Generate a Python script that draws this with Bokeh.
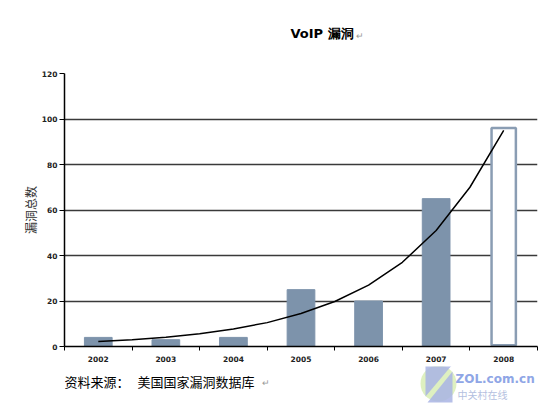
from bokeh.plotting import figure
from bokeh.models import FixedTicker, Label, Range1d, ColumnDataSource
from bokeh.layouts import column
from bokeh.embed import file_html
from bokeh.resources import INLINE

years = [2002, 2003, 2004, 2005, 2006, 2007]
counts = [4, 3, 4, 25, 20, 65]
forecast_year = [2008]
forecast_count = [96]
trend_x = [2002, 2002.5, 2003, 2003.5, 2004, 2004.5, 2005, 2005.5, 2006, 2006.5, 2007, 2007.5, 2008]
trend_y = [2.2, 3.0, 4.1, 5.6, 7.7, 10.5, 14.5, 19.8, 27, 37, 51, 70, 95]
y_ticks = [0, 20, 40, 60, 80, 100, 120]

W = 555
LB, RB = 64, 18          # left / right borders shared by all stacked figures
TOP_H, CHART_H, FOOT_H = 60, 306, 38


def strip(h):
    s = figure(width=W, height=h, output_backend="svg", toolbar_location=None,
               x_range=Range1d(LB, W - RB), y_range=Range1d(h, 0),
               x_axis_type=None, y_axis_type=None,
               min_border_left=LB, min_border_right=RB,
               min_border_top=0, min_border_bottom=0)
    s.outline_line_color = None
    s.grid.visible = False
    s.background_fill_color = "white"
    s.border_fill_color = "white"
    return s


def lab(fig, x, y, text, size, color="black", style="normal", font="Noto Sans CJK SC"):
    fig.add_layout(Label(x=x, y=y, text=text, text_font=font, text_font_size=size,
                         text_color=color, text_font_style=style,
                         text_align="left", text_baseline="middle"))


# ---- title strip
top = strip(TOP_H)
lab(top, 290, 33, "VoIP  漏洞", "13px", "black", "bold", "DejaVu Sans")
lab(top, 355, 35, "↵", "9px", "#999999")

# ---- chart
p = figure(width=W, height=CHART_H, output_backend="svg", toolbar_location=None,
           x_range=Range1d(2001.5, 2008.5), y_range=Range1d(0, 120),
           min_border_left=LB, min_border_right=RB, min_border_top=13, min_border_bottom=20)
p.outline_line_color = None
p.background_fill_color = "white"
p.border_fill_color = "white"

p.xaxis.ticker = FixedTicker(ticks=years + forecast_year,
                             minor_ticks=[y - 0.5 for y in years + forecast_year] + [2008.5])
p.xaxis.major_tick_out = 0
p.xaxis.major_tick_in = 0
p.xaxis.minor_tick_out = 4
p.xaxis.minor_tick_in = 0
p.xaxis.minor_tick_line_color = "black"
p.xaxis.axis_line_color = "black"
p.xaxis.axis_line_width = 1.5
p.xaxis.major_label_text_font = "DejaVu Sans"
p.xaxis.major_label_text_font_style = "bold"
p.xaxis.major_label_text_font_size = "7.5px"
p.xaxis.major_label_text_color = "#222222"
p.xaxis.major_label_standoff = 5
p.xgrid.grid_line_color = None

p.yaxis.ticker = FixedTicker(ticks=y_ticks)
p.yaxis.major_tick_out = 5
p.yaxis.major_tick_in = 0
p.yaxis.minor_tick_line_color = None
p.yaxis.axis_line_color = "black"
p.yaxis.axis_line_width = 1.5
p.yaxis.major_label_text_font = "DejaVu Sans"
p.yaxis.major_label_text_font_style = "bold"
p.yaxis.major_label_text_font_size = "7.5px"
p.yaxis.major_label_text_color = "#222222"
p.yaxis.major_label_standoff = 2
p.yaxis.axis_label = "漏洞总数"
p.yaxis.axis_label_text_font = "Noto Sans CJK SC"
p.yaxis.axis_label_text_font_style = "normal"
p.yaxis.axis_label_text_font_size = "12px"
p.yaxis.axis_label_text_color = "#333333"
p.yaxis.axis_label_standoff = 0
p.ygrid.grid_line_color = "#3a3a3a"
p.ygrid.grid_line_width = 1.5

src = ColumnDataSource(dict(x=years, top=counts))
p.vbar(x="x", top="top", bottom=0, width=0.41, source=src,
       fill_color="#7d93ab", line_color="#7d93ab")
src2 = ColumnDataSource(dict(x=forecast_year, top=forecast_count))
p.vbar(x="x", top="top", bottom=0.6, width=0.36, source=src2,
       fill_color="white", line_color="#8a9db3", line_width=2.5)
p.line(trend_x, trend_y, line_color="black", line_width=1.5)

# ---- footer strip (source note + watermark)
foot = strip(FOOT_H)
foot.ellipse(x=[438], y=[17], width=36, height=36, fill_color="#d6ecb0",
             fill_alpha=0.8, line_color=None)
foot.patches(xs=[[425, 452, 425], [452, 452, 427]], ys=[[-2, -2, 30], [5, 36, 36]],
             fill_color="#a9b4e4", fill_alpha=0.85, line_color=None)
lab(foot, 64, 15, "资料来源：", "13px")
lab(foot, 137, 15, "美国国家漏洞数据库", "13px")
lab(foot, 261, 16, "↵", "9px", "#999999")
lab(foot, 455, 12, "ZOL.com.cn", "12px", "#8fa6e6", "bold", "DejaVu Sans")
lab(foot, 457, 28, "中关村在线", "10px", "#b4bfe0")

layout = column(top, p, foot, spacing=0)
open("out.html", "w").write(file_html(layout, INLINE))
